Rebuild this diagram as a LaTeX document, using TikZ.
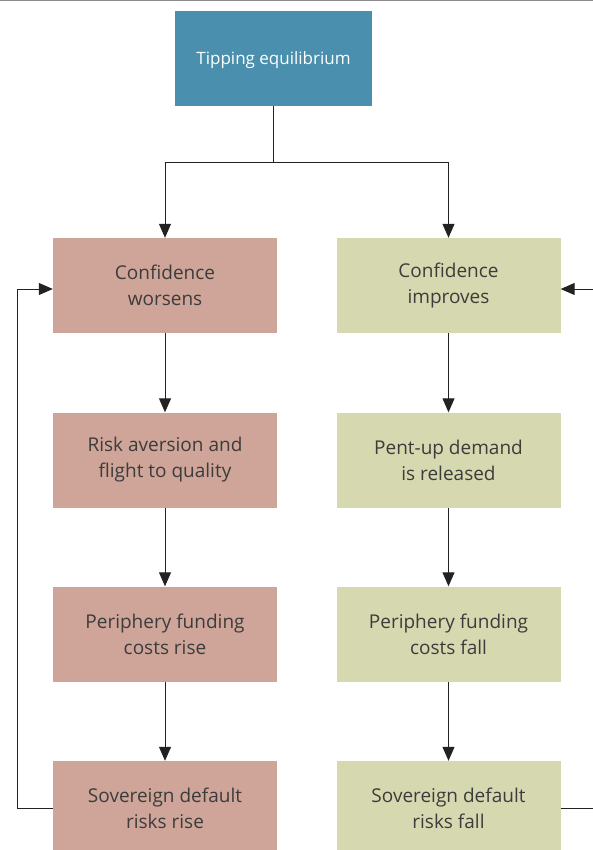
\documentclass[tikz,border=0pt]{standalone}
\usepackage{fontspec}
\setmainfont{Open Sans}
\usetikzlibrary{arrows.meta}
\definecolor{topblue}{HTML}{4A90AE}
\definecolor{pinkbox}{HTML}{CEA598}
\definecolor{greenbox}{HTML}{D6D9AF}
\definecolor{txt}{HTML}{3C3C3C}
\definecolor{linegray}{HTML}{222222}
\tikzset{
  box/.style={minimum width=224pt, minimum height=95pt, inner sep=0pt, align=center,
    font=\fontsize{19}{26}\selectfont, text=txt},
  pinkstep/.style={box, fill=pinkbox},
  greenstep/.style={box, fill=greenbox},
  conn/.style={draw=linegray, line width=1pt},
  arr/.style={conn, -{Triangle[length=14pt,width=12pt]}}
}
\begin{document}
\begin{tikzpicture}[x=1pt,y=-1pt]
\useasboundingbox (0,0) rectangle (593,850);
\begin{scope}
\clip (0,0) rectangle (593,850);
\draw[draw=gray!90, line width=1.2pt] (0,0.6) -- (593,0.6);
\node[box, fill=topblue, text=white, minimum width=197pt, minimum height=95pt, font=\fontsize{17}{24}\selectfont, text height=16pt] (top) at (273.5,58.5) {Tipping equilibrium};
\node[pinkstep] (l1) at (165,285.5) {Confidence\\worsens};
\node[pinkstep] (l2) at (165,460) {Risk aversion and\\flight to quality};
\node[pinkstep] (l3) at (165,634) {Periphery funding\\costs rise};
\node[pinkstep] (l4) at (165,808.5) {Sovereign default\\risks rise};
\node[greenstep] (r1) at (448.5,285.5) {Confidence\\improves};
\node[greenstep] (r2) at (448.5,460) {Pent-up demand\\is released};
\node[greenstep] (r3) at (448.5,634) {Periphery funding\\costs fall};
\node[greenstep] (r4) at (448.5,808.5) {Sovereign default\\risks fall};
\coordinate (split) at (top.south |- 0,163);
\draw[conn] (top.south) -- (split);
\draw[arr] (split) -| (l1.north);
\draw[arr] (split) -| (r1.north);
\draw[arr] (l1) -- (l2);
\draw[arr] (l2) -- (l3);
\draw[arr] (l3) -- (l4);
\draw[arr] (r1) -- (r2);
\draw[arr] (r2) -- (r3);
\draw[arr] (r3) -- (r4);
\coordinate (lcorner) at (17,808);
\coordinate (lcorner2) at (17,289);
\draw[arr] (l4.west |- 0,808) -- (lcorner) -- (lcorner2) -- (l1.west |- 0,289);
\coordinate (redge) at (593,808);
\coordinate (redge2) at (593,289);
\draw[conn] (r4.east |- 0,808) -- (redge);
\draw[arr] (redge2) -- (r1.east |- 0,289);
\end{scope}
\end{tikzpicture}
\end{document}
